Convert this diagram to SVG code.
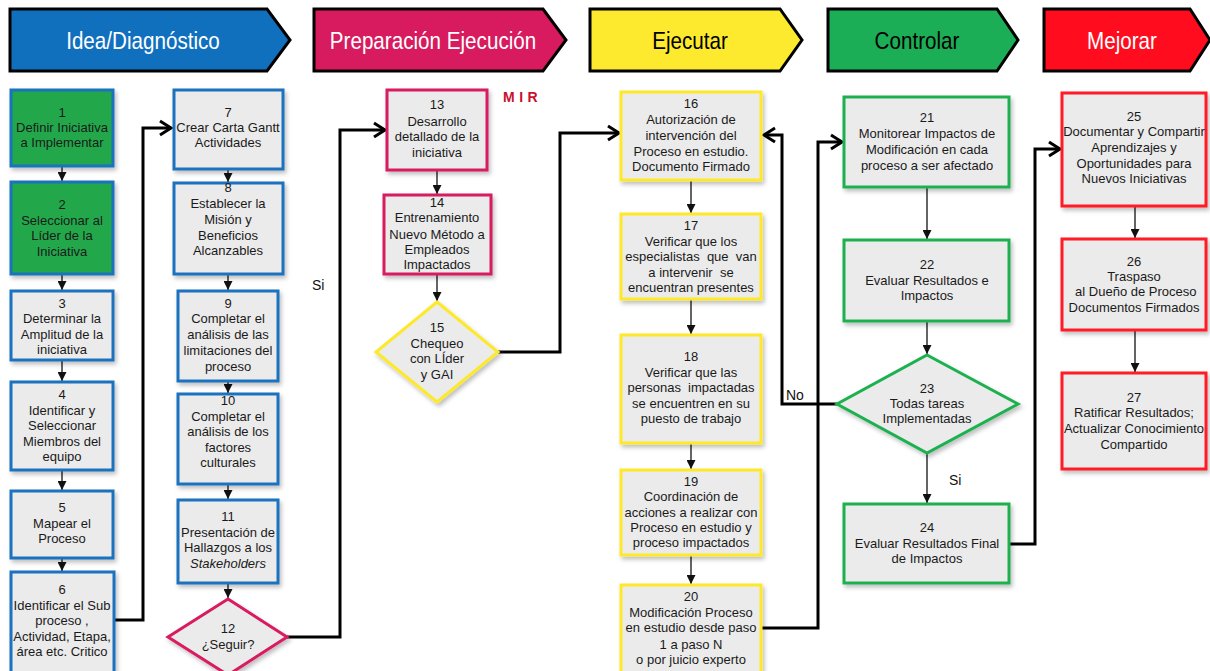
<svg xmlns="http://www.w3.org/2000/svg" width="1210" height="671" viewBox="0 0 1210 671">
  <style>
    .hdr { stroke: #000; stroke-width: 3; stroke-linejoin: miter; }
    .htxt { font-family: "Liberation Sans", Arial, sans-serif; font-size: 24px; text-anchor: middle; }
    .box { fill: #ebebeb; stroke-width: 3; filter: url(#shadow); }
    .blue { stroke: #1d72be; }
    .pink { stroke: #d81b60; }
    .yel { stroke: #fde92b; }
    .grn { stroke: #1fb050; }
    .red { stroke: #ff1a26; }
    .t { font-family: "Liberation Sans", Arial, sans-serif; font-size: 13px; text-anchor: middle; fill: #1a1a1a; }
    .lbl { font-family: "Liberation Sans", Arial, sans-serif; font-size: 14px; fill: #111; }
    .thin { fill: none; stroke: #111; stroke-width: 1.3; marker-end: url(#tri); }
    .thick { fill: none; stroke: #000; stroke-width: 3; stroke-linejoin: miter; marker-end: url(#chev); }
  </style>
  <defs>
    <filter id="shadow" x="-10%" y="-10%" width="130%" height="130%">
      <feDropShadow dx="2" dy="3" stdDeviation="2" flood-color="#000" flood-opacity="0.25"/>
    </filter>
    <marker id="tri" markerUnits="userSpaceOnUse" markerWidth="9" markerHeight="9" refX="9" refY="4.5" orient="auto">
      <path d="M0,0 L9,4.5 L0,9 Z" fill="#111"/>
    </marker>
    <marker id="chev" markerUnits="userSpaceOnUse" markerWidth="16" markerHeight="18" refX="13" refY="9" orient="auto">
      <path d="M2,2 L13,9 L2,16" fill="none" stroke="#000" stroke-width="3"/>
    </marker>
  </defs>

  <rect width="1210" height="671" fill="#fff"/>

  <!-- phase headers (text slightly condensed horizontally) -->
  <g id="phase-idea">
    <polygon class="hdr" points="10,9 267,9 290,40 267,71 10,71" fill="#1170be"/>
    <text class="htxt" transform="translate(143,49) scale(0.86,1)" fill="#fff">Idea/Diagnóstico</text>
  </g>
  <g id="phase-preparacion">
    <polygon class="hdr" points="314,9 543,9 566,40 543,71 314,71" fill="#d81b5e"/>
    <text class="htxt" transform="translate(433,49) scale(0.86,1)" fill="#fff">Preparación Ejecución</text>
  </g>
  <g id="phase-ejecutar">
    <polygon class="hdr" points="590,9 780,9 802,40 780,71 590,71" fill="#fdea2e"/>
    <text class="htxt" transform="translate(690,49) scale(0.86,1)" fill="#000">Ejecutar</text>
  </g>
  <g id="phase-controlar">
    <polygon class="hdr" points="828,9 997,9 1018,40 997,71 828,71" fill="#1cae57"/>
    <text class="htxt" transform="translate(917,49) scale(0.86,1)" fill="#000">Controlar</text>
  </g>
  <g id="phase-mejorar">
    <polygon class="hdr" points="1044,9 1190,9 1210,40 1190,71 1044,71" fill="#ff0d1e"/>
    <text class="htxt" transform="translate(1122,49) scale(0.86,1)" fill="#fff">Mejorar</text>
  </g>

  <!-- connectors -->
  <g id="connectors">
    <path class="thin" d="M62,166 V181"/>
    <path class="thin" d="M62,274 V290"/>
    <path class="thin" d="M62,360 V381"/>
    <path class="thin" d="M62,470 V490"/>
    <path class="thin" d="M62,558 V571"/>
    <path class="thick" d="M113,620 H143 V128 H171"/>
    <path class="thin" d="M228,169 V182"/>
    <path class="thin" d="M228,274 V290"/>
    <path class="thin" d="M228,381 V393"/>
    <path class="thin" d="M228,484 V499"/>
    <path class="thin" d="M228,583 V598"/>
    <path class="thick" d="M287,637 H340 V130 H385"/>
    <path class="thin" d="M437,170 V194"/>
    <path class="thin" d="M437,274 V301"/>
    <path class="thick" d="M498,352 H560 V133 H619"/>
    <path class="thin" d="M691,180 V213"/>
    <path class="thin" d="M691,299 V334"/>
    <path class="thin" d="M691,443 V469"/>
    <path class="thin" d="M691,555 V584"/>
    <path class="thick" d="M762,628 H818 V142 H842"/>
    <path class="thick" d="M837,404 H782 V135 H764"/>
    <path class="thin" d="M927,187 V239"/>
    <path class="thin" d="M927,321 V354"/>
    <path class="thin" d="M927,454 V503"/>
    <path class="thick" d="M1010,544 H1035 V149 H1060"/>
    <path class="thin" d="M1135,206 V238"/>
    <path class="thin" d="M1135,330 V372"/>
    <text class="lbl" x="312" y="290">Si</text>
    <text class="lbl" x="786" y="400">No</text>
    <text class="lbl" x="949" y="485">Si</text>
  </g>

  <text x="503" y="102" font-family="Liberation Sans, Arial, sans-serif" font-size="14" font-weight="bold" fill="#c8102e" letter-spacing="4.5">MIR</text>

  <!-- Idea / Diagnóstico column -->
  <g id="n1">
    <rect class="box blue" x="11" y="90" width="102" height="76" style="fill:#22a84b"/>
    <text class="t" x="62" y="117">1</text>
    <text class="t" x="62" y="132">Definir Iniciativa</text>
    <text class="t" x="62" y="147">a Implementar</text>
  </g>
  <g id="n2">
    <rect class="box blue" x="11" y="182" width="102" height="92" style="fill:#22a84b"/>
    <text class="t" x="62" y="209">2</text>
    <text class="t" x="62" y="225">Seleccionar al</text>
    <text class="t" x="62" y="240">Líder de la</text>
    <text class="t" x="62" y="256">Iniciativa</text>
  </g>
  <g id="n3">
    <rect class="box blue" x="11" y="291" width="102" height="69"/>
    <text class="t" x="62" y="308">3</text>
    <text class="t" x="62" y="323">Determinar la</text>
    <text class="t" x="62" y="339">Amplitud de la</text>
    <text class="t" x="62" y="354">iniciativa</text>
  </g>
  <g id="n4">
    <rect class="box blue" x="11" y="382" width="102" height="88"/>
    <text class="t" x="62" y="399">4</text>
    <text class="t" x="62" y="415">Identificar y</text>
    <text class="t" x="62" y="430">Seleccionar</text>
    <text class="t" x="62" y="446">Miembros del</text>
    <text class="t" x="62" y="461">equipo</text>
  </g>
  <g id="n5">
    <rect class="box blue" x="11" y="491" width="102" height="67"/>
    <text class="t" x="62" y="512">5</text>
    <text class="t" x="62" y="528">Mapear el</text>
    <text class="t" x="62" y="543">Proceso</text>
  </g>
  <g id="n6">
    <rect class="box blue" x="11" y="572" width="103" height="104"/>
    <text class="t" x="62" y="594">6</text>
    <text class="t" x="62" y="610">Identificar el Sub</text>
    <text class="t" x="62" y="625">proceso ,</text>
    <text class="t" x="62" y="641">Actividad, Etapa,</text>
    <text class="t" x="62" y="656">área etc. Critico</text>
  </g>

  <g id="n7">
    <rect class="box blue" x="174" y="90" width="109" height="79"/>
    <text class="t" x="228" y="117">7</text>
    <text class="t" x="228" y="132">Crear Carta Gantt</text>
    <text class="t" x="228" y="147">Actividades</text>
  </g>
  <g id="n8">
    <rect class="box blue" x="174" y="183" width="109" height="91"/>
    <text class="t" x="228" y="192">8</text>
    <text class="t" x="228" y="208">Establecer la</text>
    <text class="t" x="228" y="224">Misión y</text>
    <text class="t" x="228" y="240">Beneficios</text>
    <text class="t" x="228" y="255">Alcanzables</text>
  </g>
  <g id="n9">
    <rect class="box blue" x="178" y="291" width="100" height="90"/>
    <text class="t" x="228" y="308">9</text>
    <text class="t" x="228" y="323">Completar el</text>
    <text class="t" x="228" y="339">análisis de las</text>
    <text class="t" x="228" y="355">limitaciones del</text>
    <text class="t" x="228" y="371">proceso</text>
  </g>
  <g id="n10">
    <rect class="box blue" x="178" y="394" width="100" height="90"/>
    <text class="t" x="228" y="405">10</text>
    <text class="t" x="228" y="421">Completar el</text>
    <text class="t" x="228" y="436">análisis de los</text>
    <text class="t" x="228" y="452">factores</text>
    <text class="t" x="228" y="467">culturales</text>
  </g>
  <g id="n11">
    <rect class="box blue" x="178" y="500" width="100" height="83"/>
    <text class="t" x="228" y="521">11</text>
    <text class="t" x="228" y="537">Presentación de</text>
    <text class="t" x="228" y="552">Hallazgos a los</text>
    <text class="t" x="228" y="568" font-style="italic">Stakeholders</text>
  </g>
  <g id="n12">
    <polygon class="box pink" points="228,599 287,637 228,675 168,637"/>
    <text class="t" x="228" y="633">12</text>
    <text class="t" x="228" y="649">¿Seguir?</text>
  </g>

  <!-- Preparación Ejecución column -->
  <g id="n13">
    <rect class="box pink" x="387" y="90" width="100" height="80"/>
    <text class="t" x="437" y="109">13</text>
    <text class="t" x="437" y="126">Desarrollo</text>
    <text class="t" x="437" y="141">detallado de la</text>
    <text class="t" x="437" y="157">iniciativa</text>
  </g>
  <g id="n14">
    <rect class="box pink" x="384" y="195" width="107" height="79"/>
    <text class="t" x="437" y="207">14</text>
    <text class="t" x="437" y="222">Entrenamiento</text>
    <text class="t" x="437" y="239">Nuevo Método a</text>
    <text class="t" x="437" y="254">Empleados</text>
    <text class="t" x="437" y="269">Impactados</text>
  </g>
  <g id="n15">
    <polygon class="box yel" points="437,302 498,352 437,402 376,352"/>
    <text class="t" x="437" y="332">15</text>
    <text class="t" x="437" y="348">Chequeo</text>
    <text class="t" x="437" y="363">con LÍder</text>
    <text class="t" x="437" y="379">y GAI</text>
  </g>

  <!-- Ejecutar column -->
  <g id="n16">
    <rect class="box yel" x="621" y="92" width="140" height="88"/>
    <text class="t" x="691" y="108">16</text>
    <text class="t" x="691" y="124">Autorización de</text>
    <text class="t" x="691" y="140">intervención del</text>
    <text class="t" x="691" y="156">Proceso en estudio.</text>
    <text class="t" x="691" y="171">Documento Firmado</text>
  </g>
  <g id="n17">
    <rect class="box yel" x="621" y="214" width="140" height="85"/>
    <text class="t" x="691" y="230">17</text>
    <text class="t" x="691" y="246">Verificar que los</text>
    <text class="t" x="691" y="261" xml:space="preserve">especialistas  que  van</text>
    <text class="t" x="691" y="277" xml:space="preserve">a intervenir  se</text>
    <text class="t" x="691" y="292">encuentran presentes</text>
  </g>
  <g id="n18">
    <rect class="box yel" x="621" y="335" width="140" height="108"/>
    <text class="t" x="691" y="361">18</text>
    <text class="t" x="691" y="377">Verificar que las</text>
    <text class="t" x="691" y="392" xml:space="preserve">personas  impactadas</text>
    <text class="t" x="691" y="408">se encuentren en su</text>
    <text class="t" x="691" y="423">puesto de trabajo</text>
  </g>
  <g id="n19">
    <rect class="box yel" x="621" y="470" width="140" height="85"/>
    <text class="t" x="691" y="486">19</text>
    <text class="t" x="691" y="501">Coordinación de</text>
    <text class="t" x="691" y="517">acciones a realizar con</text>
    <text class="t" x="691" y="532">Proceso en estudio y</text>
    <text class="t" x="691" y="547">proceso impactados</text>
  </g>
  <g id="n20">
    <rect class="box yel" x="621" y="585" width="140" height="92"/>
    <text class="t" x="691" y="601">20</text>
    <text class="t" x="691" y="617">Modificación Proceso</text>
    <text class="t" x="691" y="632">en estudio desde paso</text>
    <text class="t" x="691" y="649">1 a paso N</text>
    <text class="t" x="691" y="664">o por juicio experto</text>
  </g>

  <!-- Controlar column -->
  <g id="n21">
    <rect class="box grn" x="844" y="97" width="165" height="90"/>
    <text class="t" x="927" y="122">21</text>
    <text class="t" x="927" y="138">Monitorear Impactos de</text>
    <text class="t" x="927" y="154">Modificación en cada</text>
    <text class="t" x="927" y="170">proceso a ser afectado</text>
  </g>
  <g id="n22">
    <rect class="box grn" x="844" y="240" width="165" height="81"/>
    <text class="t" x="927" y="269">22</text>
    <text class="t" x="927" y="285">Evaluar Resultados e</text>
    <text class="t" x="927" y="300">Impactos</text>
  </g>
  <g id="n23">
    <polygon class="box grn" points="927,355 1018,404 927,453 837,404"/>
    <text class="t" x="927" y="393">23</text>
    <text class="t" x="927" y="408">Todas tareas</text>
    <text class="t" x="927" y="423">Implementadas</text>
  </g>
  <g id="n24">
    <rect class="box grn" x="844" y="504" width="165" height="79"/>
    <text class="t" x="927" y="532">24</text>
    <text class="t" x="927" y="548">Evaluar Resultados Final</text>
    <text class="t" x="927" y="563">de Impactos</text>
  </g>

  <!-- Mejorar column -->
  <g id="n25">
    <rect class="box red" x="1062" y="93" width="144" height="113"/>
    <text class="t" x="1134" y="121">25</text>
    <text class="t" x="1134" y="136">Documentar y Compartir</text>
    <text class="t" x="1134" y="152">Aprendizajes y</text>
    <text class="t" x="1134" y="168">Oportunidades para</text>
    <text class="t" x="1134" y="183">Nuevos Iniciativas</text>
  </g>
  <g id="n26">
    <rect class="box red" x="1062" y="239" width="144" height="91"/>
    <text class="t" x="1134" y="266">26</text>
    <text class="t" x="1134" y="281">Traspaso</text>
    <text class="t" x="1134" y="296" xml:space="preserve"> al Dueño de Proceso</text>
    <text class="t" x="1134" y="312">Documentos Firmados</text>
  </g>
  <g id="n27">
    <rect class="box red" x="1062" y="373" width="144" height="96"/>
    <text class="t" x="1134" y="402">27</text>
    <text class="t" x="1134" y="417">Ratificar Resultados;</text>
    <text class="t" x="1134" y="433">Actualizar Conocimiento</text>
    <text class="t" x="1134" y="449">Compartido</text>
  </g>
</svg>
